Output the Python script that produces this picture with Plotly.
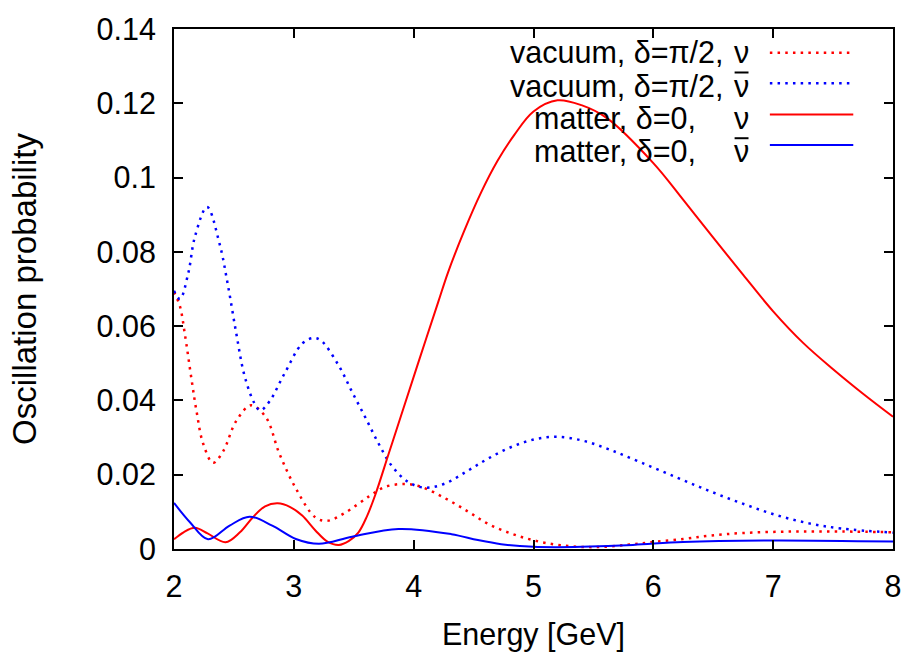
import plotly.graph_objects as go

# ---- data: oscillation probability vs. neutrino energy ----
# vacuum, delta = pi/2, neutrino
vac_nu_E = [2.00, 2.05, 2.09, 2.147, 2.188, 2.243, 2.326, 2.41, 2.52, 2.644, 2.768,
            2.878, 3.017, 3.18, 3.28, 3.43, 3.624, 3.76, 3.93, 4.066, 4.26, 4.453,
            4.619, 4.81, 5.006, 5.227, 5.50, 5.78, 6.0, 6.249, 6.469, 6.746, 7.16,
            7.575, 8.0]
vac_nu_P = [0.0692, 0.0653, 0.0580, 0.0455, 0.0371, 0.0284, 0.0232, 0.0263, 0.0345,
            0.0387, 0.0354, 0.0258, 0.0163, 0.0085, 0.0076, 0.0098, 0.0141, 0.0167,
            0.0175, 0.0167, 0.0137, 0.0101, 0.0068, 0.0042, 0.0023, 0.0010, 0.0005,
            0.0011, 0.0019, 0.0027, 0.0036, 0.0043, 0.0047, 0.0047, 0.0045]

# vacuum, delta = pi/2, antineutrino
vac_nubar_E = [2.00, 2.05, 2.12, 2.174, 2.276, 2.38, 2.45, 2.52, 2.588, 2.67, 2.72,
               2.796, 2.92, 3.07, 3.16, 3.224, 3.376, 3.486, 3.597, 3.707, 3.817,
               3.956, 4.094, 4.26, 4.453, 4.619, 4.81, 5.006, 5.2, 5.42, 5.64, 5.89,
               6.193, 6.469, 6.746, 7.02, 7.30, 7.575, 8.0]
vac_nubar_P = [0.0695, 0.0673, 0.0744, 0.0840, 0.0921, 0.0822, 0.0710, 0.0580, 0.0467,
               0.0393, 0.0373, 0.0397, 0.0471, 0.0553, 0.0568, 0.0562, 0.0493, 0.0423,
               0.0354, 0.0284, 0.0224, 0.0180, 0.0165, 0.0176, 0.0211, 0.0243, 0.0274,
               0.0295, 0.0302, 0.0291, 0.0267, 0.0234, 0.0193, 0.0156, 0.0122, 0.0092,
               0.0069, 0.0055, 0.0044]

# matter, delta = 0, neutrino
mat_nu_E = [2.00, 2.08, 2.174, 2.28, 2.43, 2.55, 2.657, 2.76, 2.865, 2.97, 3.07, 3.18,
            3.28, 3.376, 3.46, 3.54, 3.61, 3.68, 3.79, 3.90, 4.04, 4.204, 4.287, 4.42,
            4.563, 4.70, 4.84, 5.00, 5.2, 5.40, 5.613, 6.0, 6.25, 6.5, 6.75, 7.0,
            7.25, 7.5, 7.75, 8.0]
mat_nu_P = [0.0026, 0.0045, 0.0057, 0.0042, 0.0018, 0.0045, 0.0085, 0.0115, 0.0123,
            0.0113, 0.0090, 0.0050, 0.0020, 0.0011, 0.0022, 0.0045, 0.0088, 0.0146,
            0.0255, 0.0364, 0.0503, 0.0664, 0.0745, 0.0855, 0.0960, 0.1045, 0.1115,
            0.1178, 0.1208, 0.1195, 0.1160, 0.1039, 0.0940, 0.0838, 0.0738, 0.0640,
            0.0555, 0.0484, 0.0418, 0.0356]

# matter, delta = 0, antineutrino
mat_nubar_E = [2.00, 2.133, 2.284, 2.464, 2.63, 2.82, 3.017, 3.21, 3.486, 3.873, 4.315,
               4.536, 4.73, 5.0, 5.2, 5.4, 5.83, 6.249, 6.99, 8.0]
mat_nubar_P = [0.0124, 0.0072, 0.0026, 0.0063, 0.0087, 0.0063, 0.0027, 0.0014, 0.0033,
               0.0054, 0.0040, 0.0024, 0.0013, 0.0006, 0.0005, 0.0006, 0.0011, 0.0019,
               0.0023, 0.0020]

# axis ticks
x_ticks = [2, 3, 4, 5, 6, 7, 8]
y_ticks = [0, 0.02, 0.04, 0.06, 0.08, 0.1, 0.12, 0.14]
y_tick_text = ["0", "0.02", "0.04", "0.06", "0.08", "0.1", "0.12", "0.14"]

# key entries: (label, antiparticle?, colour, dash)
legend_rows = [
    ("vacuum, \u03b4=\u03c0/2,", False, "#ff0000", "dotted"),
    ("vacuum, \u03b4=\u03c0/2,", True, "#0000ff", "dotted"),
    ("matter, \u03b4=0,", False, "#ff0000", "solid"),
    ("matter, \u03b4=0,", True, "#0000ff", "solid"),
]

FONT = "Liberation Sans, Arial, Helvetica, sans-serif"
FS = 30.5
DOT = "2.5px,5.2px"

series = [
    (vac_nu_E, vac_nu_P),
    (vac_nubar_E, vac_nubar_P),
    (mat_nu_E, mat_nu_P),
    (mat_nubar_E, mat_nubar_P),
]

fig = go.Figure()
for (xs, ys), (lab, bar, col, style) in zip(series, legend_rows):
    dotted = style == "dotted"
    fig.add_trace(go.Scatter(
        x=xs, y=ys, mode="lines",
        name=lab + (" anti-\u03bd" if bar else " \u03bd"),
        line=dict(color=col, width=2.5 if dotted else 2,
                  dash=DOT if dotted else "solid", shape="spline", smoothing=1.0),
        showlegend=False,
    ))

# gnuplot-style key in the top-right corner: right-aligned text, sample line after it
L, R, T, B = 174, 15, 18, 102
W, H = 913, 658
pw, ph = W - L - R, H - T - B


def px_x(p):
    return (p - L) / pw


def px_y(p):
    return (H - B - p) / ph


text_y = [42, 76.5, 110.5, 144.5]  # vertical centre of each key label
line_y = [42.5, 74, 106.5, 138]    # height of each sample line
for (lab, bar, col, style), ty, ly in zip(legend_rows, text_y, line_y):
    dotted = style == "dotted"
    label_right = 729 if lab.startswith("vacuum") else 701
    fig.add_annotation(x=px_x(label_right), y=px_y(ty), xref="paper", yref="paper",
                       text=lab, showarrow=False, xanchor="right", yanchor="middle",
                       borderpad=0,
                       font=dict(family=FONT, size=FS, color="black"))
    fig.add_annotation(x=px_x(745.5), y=px_y(ty), xref="paper", yref="paper",
                       text="\u03bd", showarrow=False, xanchor="center", yanchor="middle",
                       borderpad=0,
                       font=dict(family=FONT, size=FS, color="black"))
    if bar:
        # bar over the nu marks the antineutrino
        fig.add_shape(type="line", xref="paper", yref="paper",
                      x0=px_x(738.5), x1=px_x(752.5), y0=px_y(ty - 13.5), y1=px_y(ty - 13.5),
                      line=dict(color="black", width=2))
    fig.add_shape(type="line", xref="paper", yref="paper",
                  x0=px_x(774), x1=px_x(858), y0=px_y(ly), y1=px_y(ly),
                  line=dict(color=col, width=2.5 if dotted else 2,
                            dash=DOT if dotted else "solid"))

axis_common = dict(
    showline=True, linecolor="black", linewidth=2, mirror="ticks",
    ticks="inside", ticklen=9, tickwidth=1.5, tickcolor="black",
    showgrid=False, zeroline=False,
    tickfont=dict(family=FONT, size=FS, color="black"),
)

fig.update_layout(
    width=W, height=H,
    margin=dict(l=L, r=R, t=T, b=B, pad=0),
    paper_bgcolor="white", plot_bgcolor="white",
    xaxis=dict(range=[2, 8], tickvals=x_ticks, ticklabelstandoff=9,
               title=dict(text="Energy [GeV]", font=dict(family=FONT, size=FS, color="black"),
                          standoff=22),
               **axis_common),
    yaxis=dict(range=[0, 0.14], tickvals=y_ticks, ticktext=y_tick_text,
               ticklabelstandoff=10,
               title=dict(text="Oscillation probability",
                          font=dict(family=FONT, size=33, color="black"), standoff=50),
               **axis_common),
)

fig.write_html("out.html")
